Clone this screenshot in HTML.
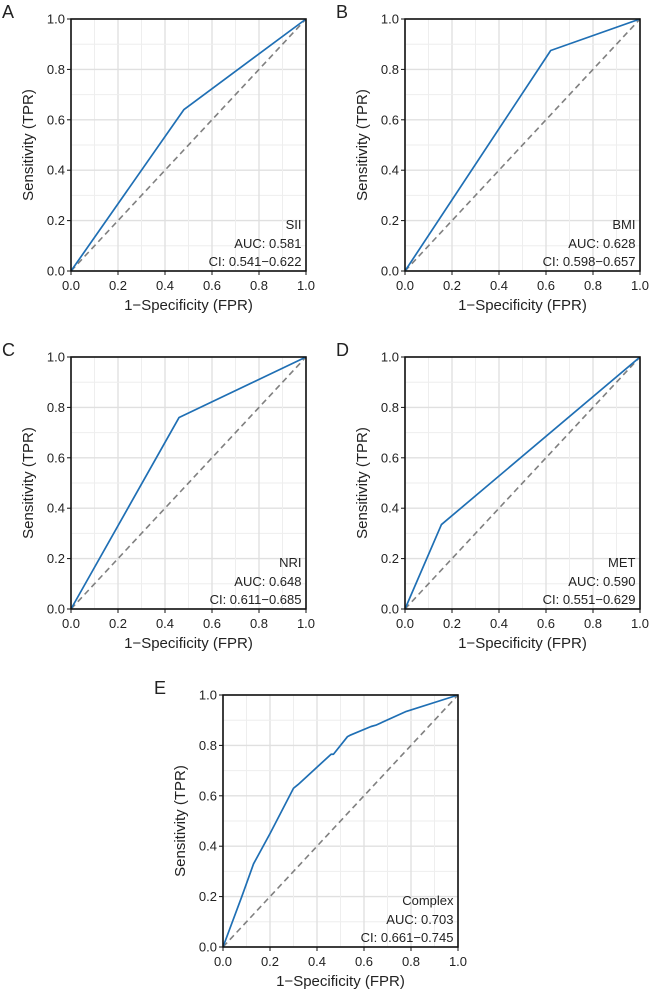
<!DOCTYPE html>
<html><head><meta charset="utf-8">
<style>
html,body{margin:0;padding:0;background:#fff;}
svg{display:block;font-family:"Liberation Sans",Arial,sans-serif;}
</style></head>
<body>
<svg id="fig" width="650" height="991" viewBox="0 0 650 991" xmlns="http://www.w3.org/2000/svg"></svg>
<script>
const panelLetters = ["A","B","C","D","E"];
const modelNames = ["SII","BMI","NRI","MET","Complex"];
const aucLabels = ["AUC: 0.581","AUC: 0.628","AUC: 0.648","AUC: 0.590","AUC: 0.703"];
const ciLabels = ["CI: 0.541\u22120.622","CI: 0.598\u22120.657","CI: 0.611\u22120.685","CI: 0.551\u22120.629","CI: 0.661\u22120.745"];
const fprA = [0,0.48,1];      const tprA = [0,0.64,1];
const fprB = [0,0.62,1];      const tprB = [0,0.875,1];
const fprC = [0,0.46,1];      const tprC = [0,0.76,1];
const fprD = [0,0.155,1];     const tprD = [0,0.335,1];
const fprE = [0,0.08,0.13,0.2,0.3,0.32,0.46,0.47,0.53,0.54,0.63,0.65,0.78,1];
const tprE = [0,0.2,0.33,0.45,0.63,0.645,0.765,0.765,0.835,0.84,0.875,0.88,0.935,1];
const tickLabels = ["0.0","0.2","0.4","0.6","0.8","1.0"];
const tickValues = [0,0.2,0.4,0.6,0.8,1.0];

const fprs=[fprA,fprB,fprC,fprD,fprE], tprs=[tprA,tprB,tprC,tprD,tprE];
const origins=[[71,19],[405,19],[71,357],[405,357],[223,695]];
const W=235,H=252;
const NS="http://www.w3.org/2000/svg";
const svg=document.getElementById('fig');
function mk(tag,attrs,parent,text){const e=document.createElementNS(NS,tag);for(const k in attrs)e.setAttribute(k,attrs[k]);if(text!==undefined)e.textContent=text;parent.appendChild(e);return e;}

for(let p=0;p<5;p++){
  const [x0,y0]=origins[p];
  const sx=v=>x0+v*W, sy=v=>y0+H-v*H;
  const g=mk('g',{},svg);
  
  
  for(let i=0;i<=10;i++){
    const v=i/10, major=i%2===0;
    const c=major?'#e0e0e0':'#eeeeee', sw=major?1.4:1;
    const gl=mk('line',{x1:sx(v),x2:sx(v),y1:y0,y2:y0+H,stroke:c,'stroke-width':sw},g);
    
    
    const gh=mk('line',{x1:x0,x2:x0+W,y1:sy(v),y2:sy(v),stroke:c,'stroke-width':sw},g);
    
    
  }
  const diag=mk('line',{x1:sx(0),y1:sy(0),x2:sx(1),y2:sy(1),stroke:'#808080','stroke-width':1.6,'stroke-dasharray':'6,4'},g);
  
  
  const pts=fprs[p].map((f,i)=>sx(f)+','+sy(tprs[p][i])).join(' ');
  const curve=mk('polyline',{points:pts,fill:'none',stroke:'#1f6fb4','stroke-width':1.7,'stroke-linejoin':'round'},g);
  
  
  const fr=mk('rect',{x:x0,y:y0,width:W,height:H,fill:'none',stroke:'#111','stroke-width':1.6},g);
  
  
  tickValues.forEach((v,i)=>{
    mk('line',{x1:sx(v),x2:sx(v),y1:y0+H,y2:y0+H+4,stroke:'#111','stroke-width':1},g);
    mk('line',{x1:x0-4,x2:x0,y1:sy(v),y2:sy(v),stroke:'#111','stroke-width':1},g);
    const tx=mk('text',{x:sx(v),y:y0+H+19,'text-anchor':'middle','font-size':13,fill:'#222'},g,tickLabels[i]);
    
    
    const ty=mk('text',{x:x0-6,y:sy(v)+4.5,'text-anchor':'end','font-size':13,fill:'#222'},g,tickLabels[i]);
    
    
  });
  const xt=mk('text',{x:x0+W/2,y:y0+H+39,'text-anchor':'middle','font-size':15,fill:'#222'},g,'1\u2212Specificity (FPR)');
  
  
  const yx=x0-38, yy=y0+H/2;
  const yt=mk('text',{x:yx,y:yy,'text-anchor':'middle','font-size':15,fill:'#222',transform:'rotate(-90 '+yx+' '+yy+')'},g,'Sensitivity (TPR)');
  
  
  const rx=x0+W-4.5;
  const n=mk('text',{x:rx,y:sy(0.185)+4.5,'text-anchor':'end','font-size':13,fill:'#222'},g,modelNames[p]);
  
  
  const a=mk('text',{x:rx,y:sy(0.11)+4.5,'text-anchor':'end','font-size':13,fill:'#222'},g,aucLabels[p]);
  
  
  const c=mk('text',{x:rx,y:sy(0.038)+4.5,'text-anchor':'end','font-size':13,fill:'#222'},g,ciLabels[p]);
  
  
  const L=mk('text',{x:x0-69,y:y0-1,'font-size':18,fill:'#222'},g,panelLetters[p]);
  
  
}
</script>
</body></html>
